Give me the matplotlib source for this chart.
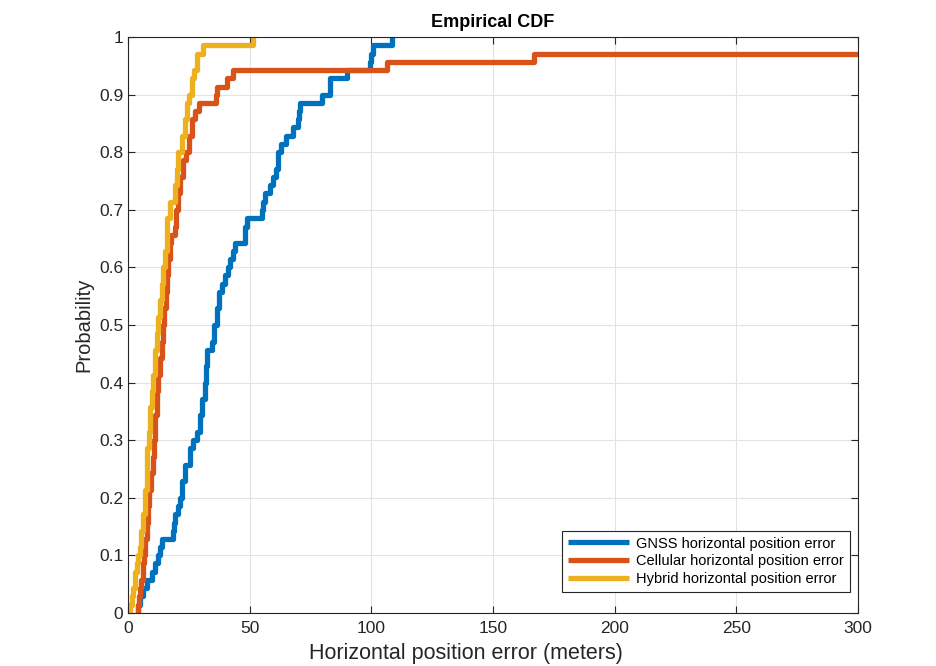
import matplotlib.pyplot as plt
import numpy as np

plt.rcParams['font.family'] = ['Liberation Sans', 'DejaVu Sans']

# step positions (error in m) and ECDF level reached at each step
gnss_err = [4.0, 5.0, 6.2, 7.7, 9.7, 11.1, 12.4, 13.2, 13.8, 18.5, 18.9, 19.5,
            20.5, 21.5, 22.0, 23.4, 25.5, 26.8, 28.2, 29.6, 30.3, 31.6, 32.0,
            32.3, 34.4, 35.5, 36.4, 37.5, 38.5, 40.0, 41.0, 42.0, 43.0, 44.0,
            48.0, 48.7, 55.0, 55.5, 56.3, 58.4, 59.7, 61.0, 61.5, 61.8, 63.0,
            65.0, 68.0, 70.0, 70.3, 70.6, 79.6, 83.0, 90.0, 99.5, 100.0, 100.8,
            108.4]
gnss_p = [0.014, 0.029, 0.043, 0.057, 0.071, 0.086, 0.100, 0.114, 0.129, 0.143,
          0.157, 0.171, 0.186, 0.200, 0.229, 0.257, 0.286, 0.300, 0.314, 0.343,
          0.371, 0.400, 0.429, 0.457, 0.471, 0.500, 0.529, 0.557, 0.571, 0.586,
          0.600, 0.614, 0.629, 0.643, 0.671, 0.686, 0.700, 0.714, 0.729, 0.743,
          0.757, 0.771, 0.786, 0.800, 0.814, 0.829, 0.843, 0.857, 0.871, 0.886,
          0.900, 0.929, 0.943, 0.957, 0.971, 0.986, 1.000]

cell_err = [4.0, 4.5, 5.0, 5.5, 6.0, 6.5, 7.0, 7.7, 8.2, 8.8, 9.5, 10.2, 10.8,
            11.3, 11.8, 12.5, 13.2, 13.8, 14.5, 15.0, 15.5, 16.0, 16.5, 17.2,
            17.5, 19.3, 19.8, 20.5, 21.5, 22.5, 24.0, 25.0, 26.5, 27.5, 29.0,
            36.0, 36.5, 40.5, 43.0, 106.3, 167.0, 320.0]
cell_p = [0.014, 0.029, 0.043, 0.057, 0.086, 0.100, 0.129, 0.157, 0.186, 0.214,
          0.243, 0.271, 0.300, 0.343, 0.386, 0.414, 0.443, 0.471, 0.500, 0.529,
          0.557, 0.586, 0.614, 0.643, 0.657, 0.671, 0.700, 0.729, 0.757, 0.786,
          0.800, 0.829, 0.857, 0.871, 0.886, 0.900, 0.914, 0.929, 0.943, 0.957,
          0.971, 0.986]

hyb_err = [0.8, 1.5, 2.2, 3.0, 3.6, 4.3, 4.9, 5.5, 6.3, 7.0, 7.7, 8.5, 9.2, 9.7,
           10.4, 11.0, 11.8, 12.5, 13.2, 13.8, 14.5, 15.2, 15.9, 17.3, 19.5,
           20.0, 20.7, 22.0, 23.4, 24.1, 25.2, 26.2, 27.2, 28.2, 30.8, 51.5]
hyb_p = [0.014, 0.029, 0.043, 0.071, 0.086, 0.100, 0.114, 0.143, 0.171, 0.214,
         0.286, 0.314, 0.357, 0.386, 0.414, 0.457, 0.486, 0.514, 0.543, 0.571,
         0.600, 0.629, 0.686, 0.714, 0.743, 0.771, 0.800, 0.829, 0.857, 0.886,
         0.900, 0.929, 0.943, 0.971, 0.986, 1.000]

series = [
    (gnss_err, gnss_p, '#0072BD', 'GNSS horizontal position error'),
    (cell_err, cell_p, '#D95319', 'Cellular horizontal position error'),
    (hyb_err, hyb_p, '#EDB120', 'Hybrid horizontal position error'),
]

fig = plt.figure(figsize=(9.37, 6.66), dpi=100)
ax = fig.add_axes([0.1366, 0.0796, 0.7791, 0.8648])

for err, p, col, lab in series:
    x = [err[0]] + list(err)
    y = [0.0] + list(p)
    ax.step(x, y, where='post', color=col, lw=3.8, label=lab,
            solid_joinstyle='round', solid_capstyle='butt')

ax.set_xlim(0, 300)
ax.set_ylim(0, 1)
ax.set_xticks(np.arange(0, 301, 50))
ax.set_yticks(np.arange(0, 1.01, 0.1))
ax.set_yticklabels(['0', '0.1', '0.2', '0.3', '0.4', '0.5', '0.6', '0.7',
                    '0.8', '0.9', '1'])
ax.grid(True, color='#e3e3e3', lw=0.8)
ax.set_axisbelow(True)
ax.tick_params(direction='in', top=True, right=True, labelsize=12.5,
               colors='#262626', length=5, width=0.8)
ax.tick_params(axis='x', pad=6)
for s in ax.spines.values():
    s.set_color('#262626')
    s.set_linewidth(0.8)

ax.set_xlabel('Horizontal position error (meters)', fontsize=15.5,
              color='#262626')
ax.xaxis.set_label_coords(0.463, -0.052)
ax.set_ylabel('Probability', fontsize=14.5, color='#262626', labelpad=4)
ax.set_title('Empirical CDF', fontsize=13, fontweight='bold', pad=7)

leg = ax.legend(loc='lower right', bbox_to_anchor=(0.989, 0.037), fontsize=10.5,
                fancybox=False, framealpha=1, edgecolor='#262626',
                handlelength=4.2, borderpad=0.4, labelspacing=0.25,
                handletextpad=0.5, borderaxespad=0)
leg.get_frame().set_linewidth(0.8)

fig.savefig('out.png', dpi=100, facecolor='white')
